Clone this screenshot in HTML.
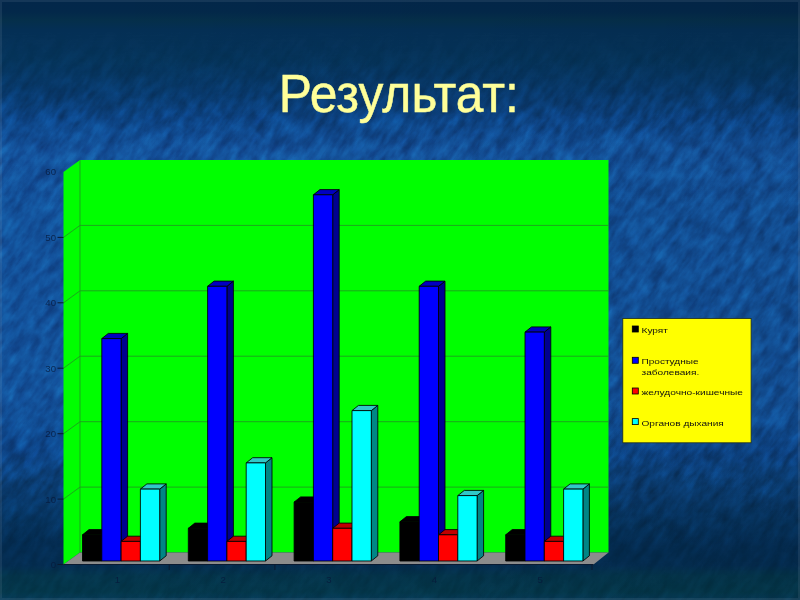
<!DOCTYPE html>
<html lang="ru"><head><meta charset="utf-8"><title>Результат</title>
<style>
html,body{margin:0;padding:0;background:#0d3f77;}
body{width:800px;height:600px;overflow:hidden;font-family:"Liberation Sans","DejaVu Sans",sans-serif;}
svg{display:block}
.ax{font-family:"Liberation Sans","DejaVu Sans",sans-serif;font-size:9.6px;fill:#06183a;fill-opacity:0.78;}
.lg{font-family:"Liberation Sans","DejaVu Sans",sans-serif;font-size:8.1px;fill:#111;}
.title{font-family:"Liberation Sans","DejaVu Sans",sans-serif;font-size:53px;fill:#ffff99;}
</style></head><body>
<svg width="800" height="600" viewBox="0 0 800 600">
<defs>
<linearGradient id="bg" x1="0" y1="0" x2="0" y2="1">
<stop offset="0.0000" stop-color="#03274a"/>
<stop offset="0.0200" stop-color="#03284a"/>
<stop offset="0.0333" stop-color="#052f4a"/>
<stop offset="0.0500" stop-color="#042f55"/>
<stop offset="0.1000" stop-color="#04335a"/>
<stop offset="0.1500" stop-color="#07396c"/>
<stop offset="0.2000" stop-color="#0c4486"/>
<stop offset="0.2500" stop-color="#13529c"/>
<stop offset="0.3500" stop-color="#12519a"/>
<stop offset="0.6667" stop-color="#12519a"/>
<stop offset="0.7500" stop-color="#0d478c"/>
<stop offset="0.8000" stop-color="#0a3e76"/>
<stop offset="0.8667" stop-color="#05335f"/>
<stop offset="0.9083" stop-color="#032c52"/>
<stop offset="0.9417" stop-color="#032c50"/>
<stop offset="0.9600" stop-color="#03344b"/>
<stop offset="0.9867" stop-color="#03364a"/>
<stop offset="1.0000" stop-color="#053a58"/>
</linearGradient>
<linearGradient id="hz" x1="0" y1="0" x2="1" y2="0"><stop offset="0" stop-color="#000" stop-opacity="0"/><stop offset="0.5" stop-color="#000" stop-opacity="0.02"/><stop offset="1" stop-color="#000" stop-opacity="0.07"/></linearGradient>
<filter id="tex" x="0" y="0" width="100%" height="100%" color-interpolation-filters="sRGB">
<feTurbulence type="fractalNoise" baseFrequency="0.045 0.13" numOctaves="5" seed="11" result="n"/>
<feColorMatrix in="n" type="matrix" values="1.6 0 0 0 -0.3  1.6 0 0 0 -0.3  1.6 0 0 0 -0.3  0 0 0 0 1"/>
</filter>
<filter id="tex2" x="0" y="0" width="100%" height="100%" color-interpolation-filters="sRGB">
<feTurbulence type="fractalNoise" baseFrequency="0.06 0.06" numOctaves="3" seed="3" result="n"/>
<feColorMatrix in="n" type="matrix" values="1.6 0 0 0 -0.3  1.6 0 0 0 -0.3  1.6 0 0 0 -0.3  0 0 0 0 1"/>
</filter>
<linearGradient id="mg" x1="0" y1="0" x2="0" y2="1"><stop offset="0.05" stop-color="#000"/><stop offset="0.2" stop-color="#fff"/><stop offset="0.8" stop-color="#fff"/><stop offset="0.95" stop-color="#666"/></linearGradient>
<mask id="mk" maskUnits="userSpaceOnUse" x="0" y="0" width="800" height="600"><rect width="800" height="600" fill="url(#mg)"/></mask>
</defs>
<rect width="800" height="600" fill="url(#bg)"/>
<rect width="800" height="600" fill="url(#hz)"/>
<g style="mix-blend-mode:overlay" opacity="0.2" mask="url(#mk)"><g transform="rotate(-55 400 300)"><rect x="-200" y="-300" width="1200" height="1200" filter="url(#tex)"/></g></g>
<g style="mix-blend-mode:overlay" opacity="0.12" mask="url(#mk)"><rect width="800" height="600" filter="url(#tex2)"/></g>
<rect x="0" y="0" width="800" height="600" fill="none" stroke="#9ab" stroke-opacity="0.12" stroke-width="4"/>
<text x="278.8" y="112.4" class="title" stroke="#ffff99" stroke-width="0.5" textLength="240" lengthAdjust="spacingAndGlyphs">Результат:</text>
<!-- chart walls -->
<polygon points="63.5,172 80,160 80,552.5 63.5,564.5" fill="#00ff00"/>
<rect x="80" y="160" width="528.5" height="392.5" fill="#00ff00"/>
<polygon points="63.5,564.5 80,552.5 608.5,552.5 593.5,564.5" fill="#8c8c8c"/>
<line x1="80" y1="160" x2="80" y2="552.5" stroke="#1f9c1f" stroke-opacity="0.9" stroke-width="1"/>
<line x1="57.5" y1="564.5" x2="63.5" y2="564.5" stroke="#0a1a30" stroke-width="1"/>
<text x="56.0" y="567.9" text-anchor="end" class="ax">0</text>
<path d="M63.5,499.1 L80,487.1 L608.5,487.1" fill="none" stroke="#1f9c1f" stroke-opacity="0.9" stroke-width="1"/>
<line x1="57.5" y1="499.1" x2="63.5" y2="499.1" stroke="#0a1a30" stroke-width="1"/>
<text x="56.0" y="502.5" text-anchor="end" class="ax">10</text>
<path d="M63.5,433.7 L80,421.7 L608.5,421.7" fill="none" stroke="#1f9c1f" stroke-opacity="0.9" stroke-width="1"/>
<line x1="57.5" y1="433.7" x2="63.5" y2="433.7" stroke="#0a1a30" stroke-width="1"/>
<text x="56.0" y="437.1" text-anchor="end" class="ax">20</text>
<path d="M63.5,368.2 L80,356.2 L608.5,356.2" fill="none" stroke="#1f9c1f" stroke-opacity="0.9" stroke-width="1"/>
<line x1="57.5" y1="368.2" x2="63.5" y2="368.2" stroke="#0a1a30" stroke-width="1"/>
<text x="56.0" y="371.6" text-anchor="end" class="ax">30</text>
<path d="M63.5,302.8 L80,290.8 L608.5,290.8" fill="none" stroke="#1f9c1f" stroke-opacity="0.9" stroke-width="1"/>
<line x1="57.5" y1="302.8" x2="63.5" y2="302.8" stroke="#0a1a30" stroke-width="1"/>
<text x="56.0" y="306.2" text-anchor="end" class="ax">40</text>
<path d="M63.5,237.4 L80,225.4 L608.5,225.4" fill="none" stroke="#1f9c1f" stroke-opacity="0.9" stroke-width="1"/>
<line x1="57.5" y1="237.4" x2="63.5" y2="237.4" stroke="#0a1a30" stroke-width="1"/>
<text x="56.0" y="240.8" text-anchor="end" class="ax">50</text>
<text x="56.0" y="175.4" text-anchor="end" class="ax">60</text>
<line x1="63.5" y1="564.5" x2="593.5" y2="564.5" stroke="#0a1a30" stroke-width="1"/>
<text x="117.3" y="582.5" text-anchor="middle" class="ax">1</text>
<text x="223.1" y="582.5" text-anchor="middle" class="ax">2</text>
<text x="328.8" y="582.5" text-anchor="middle" class="ax">3</text>
<text x="434.4" y="582.5" text-anchor="middle" class="ax">4</text>
<text x="540.1" y="582.5" text-anchor="middle" class="ax">5</text>
<line x1="169.2" y1="564" x2="169.2" y2="570" stroke="#0a1a30" stroke-width="1"/>
<line x1="274.9" y1="564" x2="274.9" y2="570" stroke="#0a1a30" stroke-width="1"/>
<line x1="592.0" y1="564" x2="592.0" y2="570" stroke="#0a1a30" stroke-width="1"/>
<polygon points="101.8,534.8 108.3,529.6 108.3,555.8 101.8,561.0" fill="#000000" stroke="#000" stroke-width="0.85" stroke-linejoin="round"/>
<polygon points="82.5,534.8 89.0,529.6 108.3,529.6 101.8,534.8" fill="#000000" stroke="#000" stroke-width="0.85" stroke-linejoin="round"/>
<rect x="82.5" y="534.8" width="19.3" height="26.2" fill="#000000" stroke="#000" stroke-width="0.85" stroke-linejoin="round"/>
<polygon points="121.1,338.6 127.6,333.4 127.6,555.8 121.1,561.0" fill="#000090" stroke="#000" stroke-width="0.85" stroke-linejoin="round"/>
<polygon points="101.8,338.6 108.3,333.4 127.6,333.4 121.1,338.6" fill="#0000c0" stroke="#000" stroke-width="0.85" stroke-linejoin="round"/>
<rect x="101.8" y="338.6" width="19.3" height="222.4" fill="#0000ff" stroke="#000" stroke-width="0.85" stroke-linejoin="round"/>
<polygon points="140.4,541.4 146.9,536.2 146.9,555.8 140.4,561.0" fill="#900000" stroke="#000" stroke-width="0.85" stroke-linejoin="round"/>
<polygon points="121.1,541.4 127.6,536.2 146.9,536.2 140.4,541.4" fill="#c00000" stroke="#000" stroke-width="0.85" stroke-linejoin="round"/>
<rect x="121.1" y="541.4" width="19.3" height="19.6" fill="#ff0000" stroke="#000" stroke-width="0.85" stroke-linejoin="round"/>
<polygon points="159.7,489.1 166.2,483.9 166.2,555.8 159.7,561.0" fill="#008686" stroke="#000" stroke-width="0.85" stroke-linejoin="round"/>
<polygon points="140.4,489.1 146.9,483.9 166.2,483.9 159.7,489.1" fill="#30c8c8" stroke="#000" stroke-width="0.85" stroke-linejoin="round"/>
<rect x="140.4" y="489.1" width="19.3" height="71.9" fill="#00ffff" stroke="#000" stroke-width="0.85" stroke-linejoin="round"/>
<polygon points="207.6,528.3 214.1,523.1 214.1,555.8 207.6,561.0" fill="#000000" stroke="#000" stroke-width="0.85" stroke-linejoin="round"/>
<polygon points="188.3,528.3 194.8,523.1 214.1,523.1 207.6,528.3" fill="#000000" stroke="#000" stroke-width="0.85" stroke-linejoin="round"/>
<rect x="188.3" y="528.3" width="19.3" height="32.7" fill="#000000" stroke="#000" stroke-width="0.85" stroke-linejoin="round"/>
<polygon points="226.9,286.3 233.4,281.1 233.4,555.8 226.9,561.0" fill="#000090" stroke="#000" stroke-width="0.85" stroke-linejoin="round"/>
<polygon points="207.6,286.3 214.1,281.1 233.4,281.1 226.9,286.3" fill="#0000c0" stroke="#000" stroke-width="0.85" stroke-linejoin="round"/>
<rect x="207.6" y="286.3" width="19.3" height="274.7" fill="#0000ff" stroke="#000" stroke-width="0.85" stroke-linejoin="round"/>
<polygon points="246.2,541.4 252.7,536.2 252.7,555.8 246.2,561.0" fill="#900000" stroke="#000" stroke-width="0.85" stroke-linejoin="round"/>
<polygon points="226.9,541.4 233.4,536.2 252.7,536.2 246.2,541.4" fill="#c00000" stroke="#000" stroke-width="0.85" stroke-linejoin="round"/>
<rect x="226.9" y="541.4" width="19.3" height="19.6" fill="#ff0000" stroke="#000" stroke-width="0.85" stroke-linejoin="round"/>
<polygon points="265.5,462.9 272.0,457.7 272.0,555.8 265.5,561.0" fill="#008686" stroke="#000" stroke-width="0.85" stroke-linejoin="round"/>
<polygon points="246.2,462.9 252.7,457.7 272.0,457.7 265.5,462.9" fill="#30c8c8" stroke="#000" stroke-width="0.85" stroke-linejoin="round"/>
<rect x="246.2" y="462.9" width="19.3" height="98.1" fill="#00ffff" stroke="#000" stroke-width="0.85" stroke-linejoin="round"/>
<polygon points="313.4,502.1 319.9,496.9 319.9,555.8 313.4,561.0" fill="#000000" stroke="#000" stroke-width="0.85" stroke-linejoin="round"/>
<polygon points="294.1,502.1 300.6,496.9 319.9,496.9 313.4,502.1" fill="#000000" stroke="#000" stroke-width="0.85" stroke-linejoin="round"/>
<rect x="294.1" y="502.1" width="19.3" height="58.9" fill="#000000" stroke="#000" stroke-width="0.85" stroke-linejoin="round"/>
<polygon points="332.7,194.8 339.2,189.6 339.2,555.8 332.7,561.0" fill="#000090" stroke="#000" stroke-width="0.85" stroke-linejoin="round"/>
<polygon points="313.4,194.8 319.9,189.6 339.2,189.6 332.7,194.8" fill="#0000c0" stroke="#000" stroke-width="0.85" stroke-linejoin="round"/>
<rect x="313.4" y="194.8" width="19.3" height="366.2" fill="#0000ff" stroke="#000" stroke-width="0.85" stroke-linejoin="round"/>
<polygon points="352.0,528.3 358.5,523.1 358.5,555.8 352.0,561.0" fill="#900000" stroke="#000" stroke-width="0.85" stroke-linejoin="round"/>
<polygon points="332.7,528.3 339.2,523.1 358.5,523.1 352.0,528.3" fill="#c00000" stroke="#000" stroke-width="0.85" stroke-linejoin="round"/>
<rect x="332.7" y="528.3" width="19.3" height="32.7" fill="#ff0000" stroke="#000" stroke-width="0.85" stroke-linejoin="round"/>
<polygon points="371.3,410.6 377.8,405.4 377.8,555.8 371.3,561.0" fill="#008686" stroke="#000" stroke-width="0.85" stroke-linejoin="round"/>
<polygon points="352.0,410.6 358.5,405.4 377.8,405.4 371.3,410.6" fill="#30c8c8" stroke="#000" stroke-width="0.85" stroke-linejoin="round"/>
<rect x="352.0" y="410.6" width="19.3" height="150.4" fill="#00ffff" stroke="#000" stroke-width="0.85" stroke-linejoin="round"/>
<polygon points="419.2,521.8 425.7,516.6 425.7,555.8 419.2,561.0" fill="#000000" stroke="#000" stroke-width="0.85" stroke-linejoin="round"/>
<polygon points="399.9,521.8 406.4,516.6 425.7,516.6 419.2,521.8" fill="#000000" stroke="#000" stroke-width="0.85" stroke-linejoin="round"/>
<rect x="399.9" y="521.8" width="19.3" height="39.2" fill="#000000" stroke="#000" stroke-width="0.85" stroke-linejoin="round"/>
<polygon points="438.5,286.3 445.0,281.1 445.0,555.8 438.5,561.0" fill="#000090" stroke="#000" stroke-width="0.85" stroke-linejoin="round"/>
<polygon points="419.2,286.3 425.7,281.1 445.0,281.1 438.5,286.3" fill="#0000c0" stroke="#000" stroke-width="0.85" stroke-linejoin="round"/>
<rect x="419.2" y="286.3" width="19.3" height="274.7" fill="#0000ff" stroke="#000" stroke-width="0.85" stroke-linejoin="round"/>
<polygon points="457.8,534.8 464.3,529.6 464.3,555.8 457.8,561.0" fill="#900000" stroke="#000" stroke-width="0.85" stroke-linejoin="round"/>
<polygon points="438.5,534.8 445.0,529.6 464.3,529.6 457.8,534.8" fill="#c00000" stroke="#000" stroke-width="0.85" stroke-linejoin="round"/>
<rect x="438.5" y="534.8" width="19.3" height="26.2" fill="#ff0000" stroke="#000" stroke-width="0.85" stroke-linejoin="round"/>
<polygon points="477.1,495.6 483.6,490.4 483.6,555.8 477.1,561.0" fill="#008686" stroke="#000" stroke-width="0.85" stroke-linejoin="round"/>
<polygon points="457.8,495.6 464.3,490.4 483.6,490.4 477.1,495.6" fill="#30c8c8" stroke="#000" stroke-width="0.85" stroke-linejoin="round"/>
<rect x="457.8" y="495.6" width="19.3" height="65.4" fill="#00ffff" stroke="#000" stroke-width="0.85" stroke-linejoin="round"/>
<polygon points="525.0,534.8 531.5,529.6 531.5,555.8 525.0,561.0" fill="#000000" stroke="#000" stroke-width="0.85" stroke-linejoin="round"/>
<polygon points="505.7,534.8 512.2,529.6 531.5,529.6 525.0,534.8" fill="#000000" stroke="#000" stroke-width="0.85" stroke-linejoin="round"/>
<rect x="505.7" y="534.8" width="19.3" height="26.2" fill="#000000" stroke="#000" stroke-width="0.85" stroke-linejoin="round"/>
<polygon points="544.3,332.1 550.8,326.9 550.8,555.8 544.3,561.0" fill="#000090" stroke="#000" stroke-width="0.85" stroke-linejoin="round"/>
<polygon points="525.0,332.1 531.5,326.9 550.8,326.9 544.3,332.1" fill="#0000c0" stroke="#000" stroke-width="0.85" stroke-linejoin="round"/>
<rect x="525.0" y="332.1" width="19.3" height="228.9" fill="#0000ff" stroke="#000" stroke-width="0.85" stroke-linejoin="round"/>
<polygon points="563.6,541.4 570.1,536.2 570.1,555.8 563.6,561.0" fill="#900000" stroke="#000" stroke-width="0.85" stroke-linejoin="round"/>
<polygon points="544.3,541.4 550.8,536.2 570.1,536.2 563.6,541.4" fill="#c00000" stroke="#000" stroke-width="0.85" stroke-linejoin="round"/>
<rect x="544.3" y="541.4" width="19.3" height="19.6" fill="#ff0000" stroke="#000" stroke-width="0.85" stroke-linejoin="round"/>
<polygon points="582.9,489.1 589.4,483.9 589.4,555.8 582.9,561.0" fill="#008686" stroke="#000" stroke-width="0.85" stroke-linejoin="round"/>
<polygon points="563.6,489.1 570.1,483.9 589.4,483.9 582.9,489.1" fill="#30c8c8" stroke="#000" stroke-width="0.85" stroke-linejoin="round"/>
<rect x="563.6" y="489.1" width="19.3" height="71.9" fill="#00ffff" stroke="#000" stroke-width="0.85" stroke-linejoin="round"/>
<!-- legend -->
<rect x="622.8" y="318.5" width="128.3" height="124.3" fill="#ffff00" stroke="#1a2a20" stroke-width="0.8"/>
<rect x="632.3" y="326" width="6" height="6" fill="#000" stroke="#000" stroke-width="0.8"/>
<rect x="632.3" y="357.3" width="6" height="6" fill="#0000ff" stroke="#000" stroke-width="0.8"/>
<rect x="632.3" y="388" width="6" height="6" fill="#ff0000" stroke="#000" stroke-width="0.8"/>
<rect x="632.3" y="418.6" width="6" height="6" fill="#00ffff" stroke="#000" stroke-width="0.8"/>
<text x="641.5" y="332.6" class="lg" textLength="26.4" lengthAdjust="spacingAndGlyphs">Курят</text>
<text x="641.5" y="363.6" class="lg" textLength="57" lengthAdjust="spacingAndGlyphs">Простудные</text>
<text x="641.5" y="374.9" class="lg" textLength="57.8" lengthAdjust="spacingAndGlyphs">заболеваия.</text>
<text x="641.5" y="394.6" class="lg" textLength="101.5" lengthAdjust="spacingAndGlyphs">желудочно-кишечные</text>
<text x="641.5" y="425.6" class="lg" textLength="82.3" lengthAdjust="spacingAndGlyphs">Органов дыхания</text>
</svg>
</body></html>
